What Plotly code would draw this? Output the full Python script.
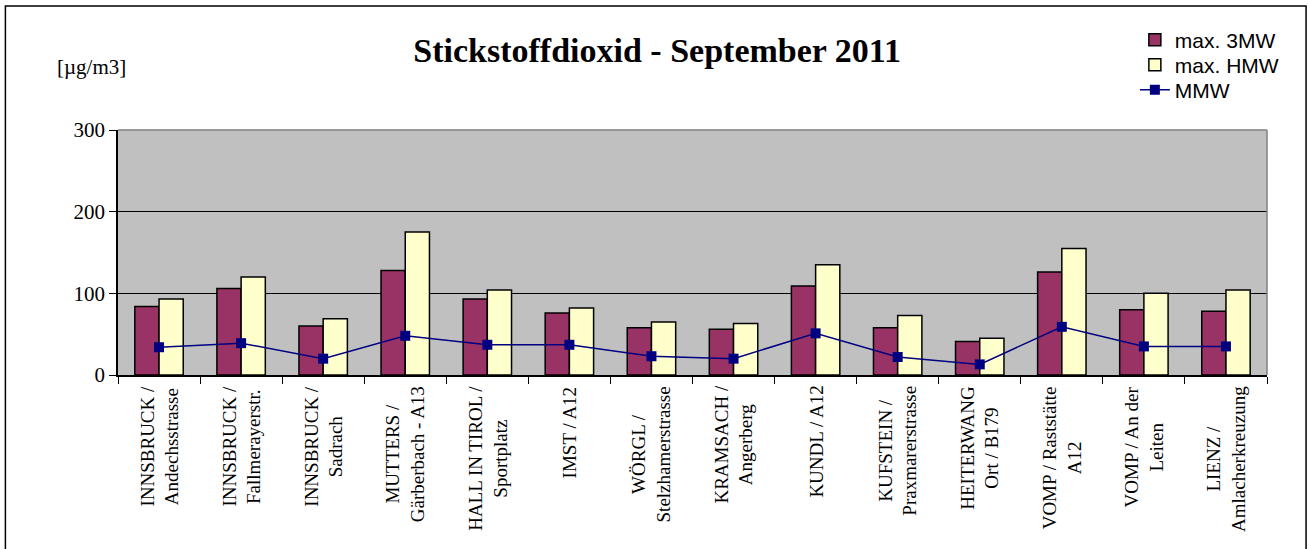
import plotly.graph_objects as go

categories = [
    "INNSBRUCK /<br>Andechsstrasse",
    "INNSBRUCK /<br>Fallmerayerstr.",
    "INNSBRUCK /<br>Sadrach",
    "MUTTERS /<br>Gärberbach - A13",
    "HALL IN TIROL /<br>Sportplatz",
    "IMST / A12",
    "WÖRGL /<br>Stelzhamerstrasse",
    "KRAMSACH /<br>Angerberg",
    "KUNDL / A12",
    "KUFSTEIN /<br>Praxmarerstrasse",
    "HEITERWANG<br>Ort / B179",
    "VOMP / Raststätte<br>A12",
    "VOMP / An der<br>Leiten",
    "LIENZ /<br>Amlacherkreuzung",
]
max_3mw = [84, 106, 60, 128, 93, 76, 58, 56, 109, 58, 41, 126, 80, 78]
max_hmw = [93, 120, 69, 175, 104, 82, 65, 63, 135, 73, 45, 155, 100, 104]
mmw = [34, 39, 20, 48, 37, 37, 23, 20, 51, 22, 13, 59, 35, 35]
y_ticks = [0, 100, 200, 300]

serif = "Liberation Serif, Times New Roman, serif"
sans = "Liberation Sans, Arial, sans-serif"

fig = go.Figure()
fig.add_trace(go.Bar(x=categories, y=max_3mw, name="max. 3MW", legend="legend",
                     marker=dict(color="#993366", line=dict(color="black", width=1.5))))
fig.add_trace(go.Bar(x=categories, y=max_hmw, name="max. HMW", legend="legend2",
                     marker=dict(color="#FFFFCC", line=dict(color="black", width=1.5))))
fig.add_trace(go.Scatter(x=categories, y=mmw, name="MMW", mode="lines+markers", legend="legend3",
                         line=dict(color="#000080", width=1.5),
                         marker=dict(symbol="square", size=10, color="#000080")))

for c in categories:
    fig.add_annotation(x=c, xref="x", y=0, yref="paper", yshift=-9,
                       yanchor="top", xanchor="center", textangle=-90,
                       text=c, showarrow=False, align="center",
                       font=dict(family=serif, size=19, color="black"))

leg_common = dict(xanchor="left", yanchor="middle", bgcolor="rgba(0,0,0,0)",
                  font=dict(family=sans, size=21, color="black"))

fig.update_layout(
    width=1309, height=549, autosize=False,
    margin=dict(l=118, r=42, t=130, b=174),
    paper_bgcolor="white", plot_bgcolor="#C0C0C0",
    barmode="group", bargap=0.41, bargroupgap=0,
    title=dict(text="<b>Stickstoffdioxid - September 2011</b>", x=0.502, xanchor="center",
               y=0.908, yanchor="middle", font=dict(family=serif, size=34, color="black")),
    legend=dict(x=0.885, y=1.367, **leg_common),
    legend2=dict(x=0.885, y=1.265, **leg_common),
    legend3=dict(x=0.885, y=1.163, **leg_common),
    xaxis=dict(type="category", range=[-0.5, 13.5], showticklabels=False, showline=True,
               linecolor="black", linewidth=1.5, ticks="outside", ticklen=7,
               tickcolor="black", tickson="boundaries", showgrid=False),
    yaxis=dict(range=[0, 300], tickvals=y_ticks, showline=True, linecolor="black",
               linewidth=1.5, ticks="outside", ticklen=7, tickcolor="black",
               showgrid=True, gridcolor="black", gridwidth=1, zeroline=False,
               tickfont=dict(family=serif, size=21, color="black")),
    showlegend=True,
)

fig.add_annotation(text="[µg/m3]", x=-0.023, xref="paper", y=1.258, yref="paper",
                   showarrow=False, xanchor="center", yanchor="middle",
                   font=dict(family=serif, size=21, color="black"))

# plot-area top and right borders (grey)
fig.add_shape(type="line", xref="paper", yref="paper", x0=0, x1=1, y0=1, y1=1,
              line=dict(color="#808080", width=1.5))
fig.add_shape(type="line", xref="paper", yref="paper", x0=1, x1=1, y0=0, y1=1,
              line=dict(color="#808080", width=1.5))
# outer frame
fig.add_shape(type="rect", xref="paper", yref="paper", x0=-0.098, x1=1.034,
              y0=-0.9, y1=1.506, line=dict(color="black", width=1.5), layer="above")

fig.write_html("out.html", config={"displayModeBar": False},
               post_script="document.body.style.margin='0';document.body.style.overflow='hidden';")
